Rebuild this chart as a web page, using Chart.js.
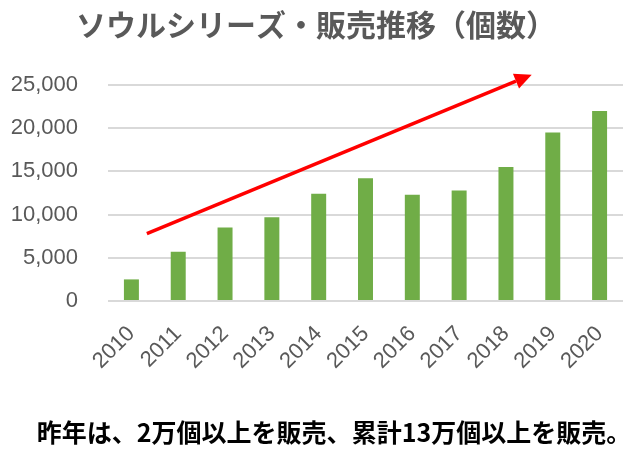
<!DOCTYPE html>
<html>
<head>
<meta charset="utf-8">
<script src="https://cdn.jsdelivr.net/npm/chart.js@4/dist/chart.umd.min.js"></script>
<style>
html,body{margin:0;padding:0;background:#fff;}
#wrap{width:640px;height:456px;position:relative;}
</style>
</head>
<body>
<div id="wrap"><canvas id="c"></canvas></div>
<script>
const titleText = 'ソウルシリーズ・販売推移（個数）';
const noteText = '昨年は、2万個以上を販売、累計13万個以上を販売。';
const years = ['2010','2011','2012','2013','2014','2015','2016','2017','2018','2019','2020'];
const sales = [2500, 5700, 8500, 9700, 12400, 14200, 12300, 12800, 15500, 19500, 22000];
const yTicks = [0, 5000, 10000, 15000, 20000, 25000];
// arrow endpoints in data coordinates: [category index, value]
const arrowStart = [0.33, 7800];
const arrowEnd = [8.55, 26200];

const arrowPlugin = {
  id: 'trendArrow',
  afterDatasetsDraw(chart) {
    const {ctx, scales: {x, y}} = chart;
    const x1 = x.getPixelForValue(arrowStart[0]);
    const y1 = y.getPixelForValue(arrowStart[1]);
    const x2 = x.getPixelForValue(arrowEnd[0]);
    const y2 = y.getPixelForValue(arrowEnd[1]);
    const ang = Math.atan2(y2 - y1, x2 - x1);
    const headLen = 17, headHalf = 8;
    const bx = x2 - headLen * Math.cos(ang);
    const by = y2 - headLen * Math.sin(ang);
    ctx.save();
    ctx.strokeStyle = '#ff0000';
    ctx.fillStyle = '#ff0000';
    ctx.lineWidth = 3.5;
    ctx.beginPath();
    ctx.moveTo(x1, y1);
    ctx.lineTo(bx, by);
    ctx.stroke();
    ctx.beginPath();
    ctx.moveTo(x2, y2);
    ctx.lineTo(bx + headHalf * Math.sin(ang), by - headHalf * Math.cos(ang));
    ctx.lineTo(bx - headHalf * Math.sin(ang), by + headHalf * Math.cos(ang));
    ctx.closePath();
    ctx.fill();
    ctx.restore();
  }
};

const notePlugin = {
  id: 'noteText',
  afterDraw(chart) {
    const ctx = chart.ctx;
    ctx.save();
    ctx.font = "bold 25px 'Noto Sans CJK JP', 'Noto Sans', sans-serif";
    ctx.fillStyle = '#000000';
    ctx.textAlign = 'center';
    ctx.textBaseline = 'middle';
    ctx.fillText(noteText, 334, 432);
    ctx.restore();
  }
};

new Chart(document.getElementById('c'), {
  type: 'bar',
  data: {
    labels: years,
    datasets: [{
      data: sales,
      backgroundColor: '#70ad47',
      borderWidth: 0,
      barPercentage: 0.32,
      categoryPercentage: 1.0
    }]
  },
  options: {
    responsive: true,
    maintainAspectRatio: false,
    animation: false,
    layout: { padding: { left: 9, right: 17, top: 7, bottom: 85 } },
    plugins: {
      legend: { display: false },
      tooltip: { enabled: false },
      title: {
        display: true,
        text: titleText,
        color: '#595959',
        font: { family: "'Noto Sans CJK JP', 'Noto Sans', sans-serif", size: 30, weight: 'bold' },
        padding: { top: 0, bottom: 42 }
      }
    },
    scales: {
      x: {
        grid: { display: false, drawTicks: false },
        border: { display: false },
        ticks: {
          color: '#595959',
          font: { family: "'Liberation Sans', sans-serif", size: 22 },
          maxRotation: 45, minRotation: 45,
          autoSkip: false,
          padding: 20
        },
        afterFit(axis) { axis.paddingLeft = 0; axis.paddingRight = 0; axis.height = 70; }
      },
      y: {
        min: 0, max: 25000,
        afterBuildTicks(axis) { axis.ticks = yTicks.map(v => ({value: v})); },
        grid: { color: '#d9d9d9', lineWidth: 2, drawTicks: false },
        border: { display: false },
        ticks: {
          color: '#595959',
          font: { family: "'Liberation Sans', sans-serif", size: 22 },
          padding: 30
        },
        afterFit(axis) { axis.width = 99; }
      }
    }
  },
  plugins: [arrowPlugin, notePlugin]
});
</script>
</body>
</html>
